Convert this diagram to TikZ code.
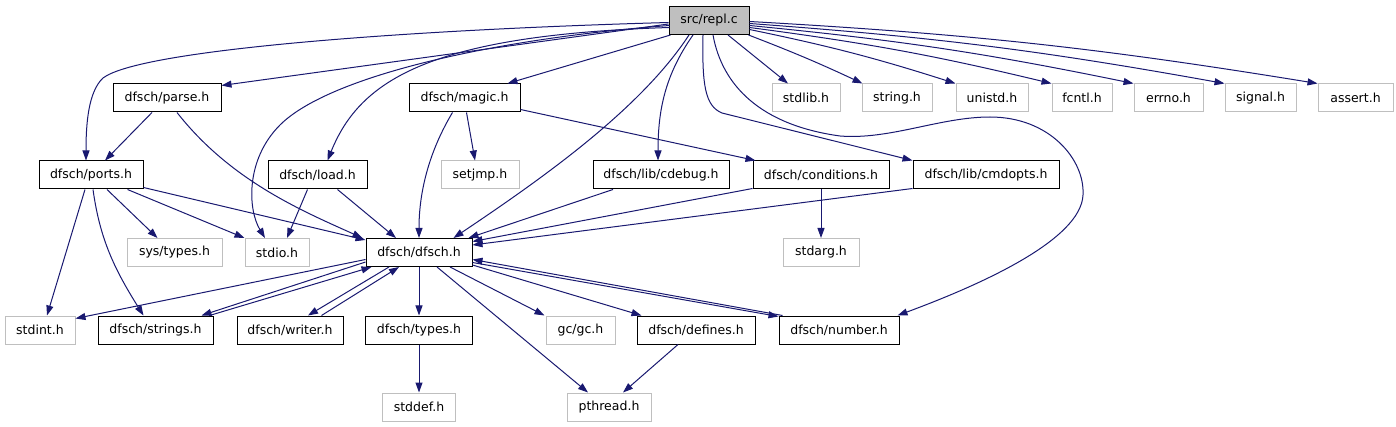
\documentclass[tikz,border=0pt]{standalone}
\usepackage{fontspec}
\setmainfont{DejaVu Sans}
\usetikzlibrary{arrows.meta,calc}
\definecolor{edgec}{HTML}{191970}
\definecolor{grayb}{HTML}{BFBFBF}
\definecolor{rootf}{HTML}{BFBFBF}
\tikzset{
  box/.style={draw=black, line width=1pt, minimum height=28pt, inner sep=0pt,
    font=\fontsize{12.5}{14}\selectfont, text=black},
  gbox/.style={box, draw=grayb},
  rootbox/.style={box, fill=rootf},
  edge/.style={draw=edgec, line width=1pt, -{Triangle[length=10pt,width=7pt]}},
}
\begin{document}
\begin{tikzpicture}[x=1pt,y=-1pt]
\useasboundingbox (0,0) rectangle (1396,427);
% row 1
\node[rootbox, minimum width=80pt] (repl) at (709,20.5) {src/repl.c};
% row 2
\node[box, minimum width=108pt] (parse) at (167,98) {dfsch/parse.h};
\node[box, minimum width=111pt] (magic) at (464.5,98) {dfsch/magic.h};
\node[gbox, minimum width=68pt] (stdlib) at (806,98) {stdlib.h};
\node[gbox, minimum width=70pt] (string) at (897,98) {string.h};
\node[gbox, minimum width=72pt] (unistd) at (992,98) {unistd.h};
\node[gbox, minimum width=60pt] (fcntl) at (1082,98) {fcntl.h};
\node[gbox, minimum width=69pt] (errno) at (1168.5,98) {errno.h};
\node[gbox, minimum width=71pt] (signal) at (1260.5,98) {signal.h};
\node[gbox, minimum width=75pt] (assert) at (1355.5,98) {assert.h};
% row 3
\node[box, minimum width=104pt] (ports) at (91,175) {dfsch/ports.h};
\node[box, minimum width=99pt] (load) at (317.5,175) {dfsch/load.h};
\node[gbox, minimum width=78pt] (setjmp) at (480,175) {setjmp.h};
\node[box, minimum width=136pt] (cdebug) at (661,175) {dfsch/lib/cdebug.h};
\node[box, minimum width=136pt] (conditions) at (821,175) {dfsch/conditions.h};
\node[box, minimum width=146pt] (cmdopts) at (986,175) {dfsch/lib/cmdopts.h};
% row 4
\node[gbox, minimum width=95pt] (systypes) at (174.5,252.5) {sys/types.h};
\node[gbox, minimum width=64pt] (stdio) at (277,252.5) {stdio.h};
\node[box, minimum width=106pt] (dfsch) at (419,252.5) {dfsch/dfsch.h};
\node[gbox, minimum width=76pt] (stdarg) at (821,252.5) {stdarg.h};
% row 5
\node[gbox, minimum width=70pt] (stdint) at (40,330) {stdint.h};
\node[box, minimum width=115pt] (strings) at (155.5,330) {dfsch/strings.h};
\node[box, minimum width=106pt] (writer) at (290,330) {dfsch/writer.h};
\node[box, minimum width=107pt] (types) at (419,330) {dfsch/types.h};
\node[gbox, minimum width=69pt] (gcgc) at (580.5,330) {gc/gc.h};
\node[box, minimum width=118pt] (defines) at (696,330) {dfsch/defines.h};
\node[box, minimum width=120pt] (number) at (839,330) {dfsch/number.h};
% row 6
\node[gbox, minimum width=73pt] (stddef) at (419,407) {stddef.h};
\node[gbox, minimum width=84pt] (pthread) at (609,407) {pthread.h};

% edges from repl.c
\draw[edge] ($(repl.west)+(0,2)$) .. controls (400,30) and (140,50) .. (103,78)
  .. controls (88,92) and (86,125) .. ($(ports.north)+(-5,0)$);
\draw[edge] ($(repl.west)+(0,3.5)$) -- ($(parse.north east)+(0,2)$);
\draw[edge] ($(repl.west)+(1,5)$) .. controls (500,38) and (330,75) .. (280,125)
  .. controls (245,160) and (248,210) .. ($(stdio.north)+(-12,0)$);
\draw[edge] ($(repl.west)+(1,7)$) .. controls (430,35) and (360,80) .. ($(load.north)+(10,0)$);
\draw[edge] ($(repl.south west)+(2,0)$) -- ($(magic.north east)+(-13,0)$);
\draw[edge] ($(repl.south)+(-20,0)$) .. controls (640,110) and (540,180) .. ($(dfsch.north east)+(-19,0)$);
\draw[edge] ($(repl.south)+(-16,0)$) .. controls (665,75) and (658,110) .. ($(cdebug.north)+(-3,0)$);
\draw[edge] ($(repl.south)+(-6,0)$) .. controls (702,85) and (705,106) .. (722,113) -- (cmdopts.north west);
\draw[edge] ($(repl.south)+(4,0)$) .. controls (722,85) and (760,125) .. (840,136)
  .. controls (890,140) and (940,117) .. (990,117)
  .. controls (1050,117) and (1085,160) .. (1083,195)
  .. controls (1081,240) and (980,285) .. ($(number.north east)+(-2,0)$);
\draw[edge] ($(repl.south)+(19,0)$) -- ($(stdlib.north)+(-18,0)$);
\draw[edge] ($(repl.south east)+(-1,0)$) to[bend left=2] ($(string.north west)+(1,0)$);
\draw[edge] ($(repl.east)+(0,9)$) to[bend left=3] (unistd.north west);
\draw[edge] ($(repl.east)+(0,7)$) to[bend left=3] (fcntl.north west);
\draw[edge] ($(repl.east)+(0,5)$) to[bend left=3] (errno.north west);
\draw[edge] ($(repl.east)+(0,3)$) to[bend left=3] (signal.north west);
\draw[edge] ($(repl.east)+(0,1)$) to[bend left=3] (assert.north west);

% parse
\draw[edge] ($(parse.south)+(-15,0)$) -- ($(ports.north)+(14,0)$);
\draw[edge] ($(parse.south)+(10,0)$) .. controls (230,180) and (300,210) .. ($(dfsch.north west)+(-3,0)$);

% ports
\draw[edge] ($(ports.south)+(-6,0)$) -- ($(stdint.north)+(7,0)$);
\draw[edge] ($(ports.south)+(2,0)$) .. controls (100,240) and (115,270) .. ($(strings.north)+(-12,0)$);
\draw[edge] ($(ports.south)+(16,0)$) -- ($(systypes.north)+(-17,0)$);
\draw[edge] ($(ports.south east)+(-16,0)$) -- (stdio.north west);
\draw[edge] ($(ports.south east)+(0,-2)$) -- ($(dfsch.north west)+(0,2)$);

% load
\draw[edge] ($(load.south)+(-10,0)$) -- ($(stdio.north)+(10,0)$);
\draw[edge] ($(load.south)+(20,0)$) -- ($(dfsch.north)+(-23,0)$);

% magic
\draw[edge] ($(magic.south)+(-12,0)$) .. controls (430,150) and (419,190) .. (dfsch.north);
\draw[edge] ($(magic.south)+(2,0)$) -- ($(setjmp.north)+(-5,0)$);
\draw[edge] ($(magic.south east)+(0,-3)$) -- ($(conditions.north west)+(3,0)$);

% row 3 into dfsch
\draw[edge] ($(cdebug.south)+(-48,0)$) -- ($(dfsch.north east)+(-4,0)$);
\draw[edge] ($(conditions.south west)+(0,-1)$) -- ($(dfsch.north east)+(0,3.5)$);
\draw[edge] ($(cmdopts.south west)+(0,-1)$) -- ($(dfsch.north east)+(0,7)$);
\draw[edge] (conditions.south) -- (stdarg.north);

% dfsch
\draw[edge] ($(dfsch.west)+(0,7)$) -- ($(stdint.north east)+(0,3)$);
\draw[edge] ($(dfsch.south west)+(0,-5)$) -- ($(strings.north east)+(-12,0)$);
\draw[edge] ($(strings.north east)+(-4,0)$) -- ($(dfsch.south west)+(6,0)$);
\draw[edge] ($(dfsch.south)+(-30,0)$) -- ($(writer.north)+(18,0)$);
\draw[edge] ($(writer.north east)+(-22,0)$) -- ($(dfsch.south)+(-20,0)$);
\draw[edge] (dfsch.south) -- (types.north);
\draw[edge] ($(dfsch.south)+(31,0)$) -- ($(gcgc.north west)+(-1,0)$);
\draw[edge] ($(dfsch.south)+(18,0)$) -- ($(pthread.north)+(-21,0)$);
\draw[edge] ($(dfsch.south east)+(0,-2)$) -- ($(defines.north west)+(5,0)$);
\draw[edge] ($(dfsch.east)+(0,10)$) -- ($(number.north west)+(0,1)$);
\draw[edge] ($(number.north west)+(4,0)$) -- ($(dfsch.east)+(0,7)$);

% lower
\draw[edge] ($(defines.south)+(-18,0)$) -- ($(pthread.north)+(14,0)$);
\draw[edge] (types.south) -- (stddef.north);
\end{tikzpicture}
\end{document}
